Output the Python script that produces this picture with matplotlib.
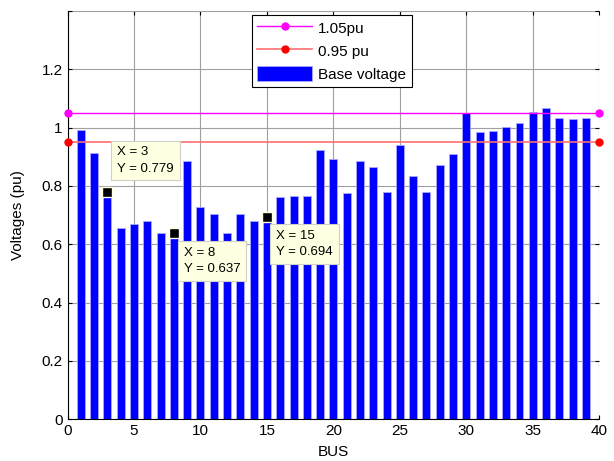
import matplotlib.pyplot as plt
import numpy as np

buses = np.arange(1, 40)
voltages = [0.991, 0.914, 0.779, 0.656, 0.669, 0.680, 0.639, 0.637, 0.885, 0.726,
            0.705, 0.639, 0.705, 0.680, 0.694, 0.762, 0.766, 0.766, 0.922, 0.893,
            0.774, 0.884, 0.864, 0.778, 0.939, 0.833, 0.778, 0.873, 0.910, 1.050,
            0.983, 0.987, 1.001, 1.017, 1.053, 1.066, 1.033, 1.028, 1.033]
upper_limit = 1.05
lower_limit = 0.95
limit_x = [0, 40]
tip_buses = [3, 8, 15]

plt.rcParams['font.family'] = ['Liberation Sans', 'DejaVu Sans']
plt.rcParams['font.size'] = 10.5

fig = plt.figure(figsize=(6.14, 4.61), dpi=100)
ax = fig.add_axes([0.110, 0.0905, 0.866, 0.886])

ax.bar(buses, voltages, width=0.6, color='#0000ff', edgecolor='#a8a8ff',
       linewidth=0.6, label='Base voltage', zorder=2)
l_up, = ax.plot(limit_x, [upper_limit, upper_limit], color='#ff00ff', lw=1,
                marker='.', ms=10, label='1.05pu', zorder=3, clip_on=False)
l_low, = ax.plot(limit_x, [lower_limit, lower_limit], color='#ff7070', lw=1.2,
                 marker='.', ms=10, mfc='#ff0000', mec='#ff0000', label='0.95 pu',
                 zorder=3, clip_on=False)

# data tips
tip_pos = {3: (3.75, 0.935), 8: (8.75, 0.59), 15: (15.7, 0.649)}
for b in tip_buses:
    v = voltages[b - 1]
    ax.plot(b, v, 's', color='black', ms=7, mec='#ffffe1', mew=1, zorder=5)
    tx, ty = tip_pos[b]
    ax.text(tx, ty, f'X = {b}\nY = {v:.3f}', fontsize=9.5, va='top', ha='left',
            linespacing=1.45, zorder=6,
            bbox=dict(boxstyle='square,pad=0.45', fc='#ffffe1', ec='#d0d0c8', lw=0.8))

ax.set_xlim(0, 40)
ax.set_ylim(0, 1.4)
ax.set_xticks(np.arange(0, 41, 5))
ax.set_yticks(np.arange(0, 1.41, 0.2))
ax.set_yticklabels(['0', '0.2', '0.4', '0.6', '0.8', '1', '1.2', ''])
ax.grid(True, color='#a0a0a0', lw=0.8, zorder=0)
ax.set_axisbelow(True)
ax.tick_params(direction='in', length=3, top=True, right=True, width=0.8,
               labelsize=11)
ax.spines['top'].set_visible(False)
ax.spines['right'].set_visible(False)
ax.set_xlabel('BUS', labelpad=5, fontsize=11)
ax.set_ylabel('Voltages (pu)', labelpad=12, fontsize=11)

bars = ax.containers[0]
leg = ax.legend([l_up, l_low, bars], ['1.05pu', '0.95 pu', 'Base voltage'],
                loc='upper center', bbox_to_anchor=(0.497, 1.0), fancybox=False,
                framealpha=1, edgecolor='black', handlelength=3.6,
                handleheight=1.2, borderpad=0.35, labelspacing=0.45,
                handletextpad=0.4, borderaxespad=0.25, fontsize=11)
leg.get_frame().set_linewidth(0.8)

plt.savefig('out.png', dpi=100)
